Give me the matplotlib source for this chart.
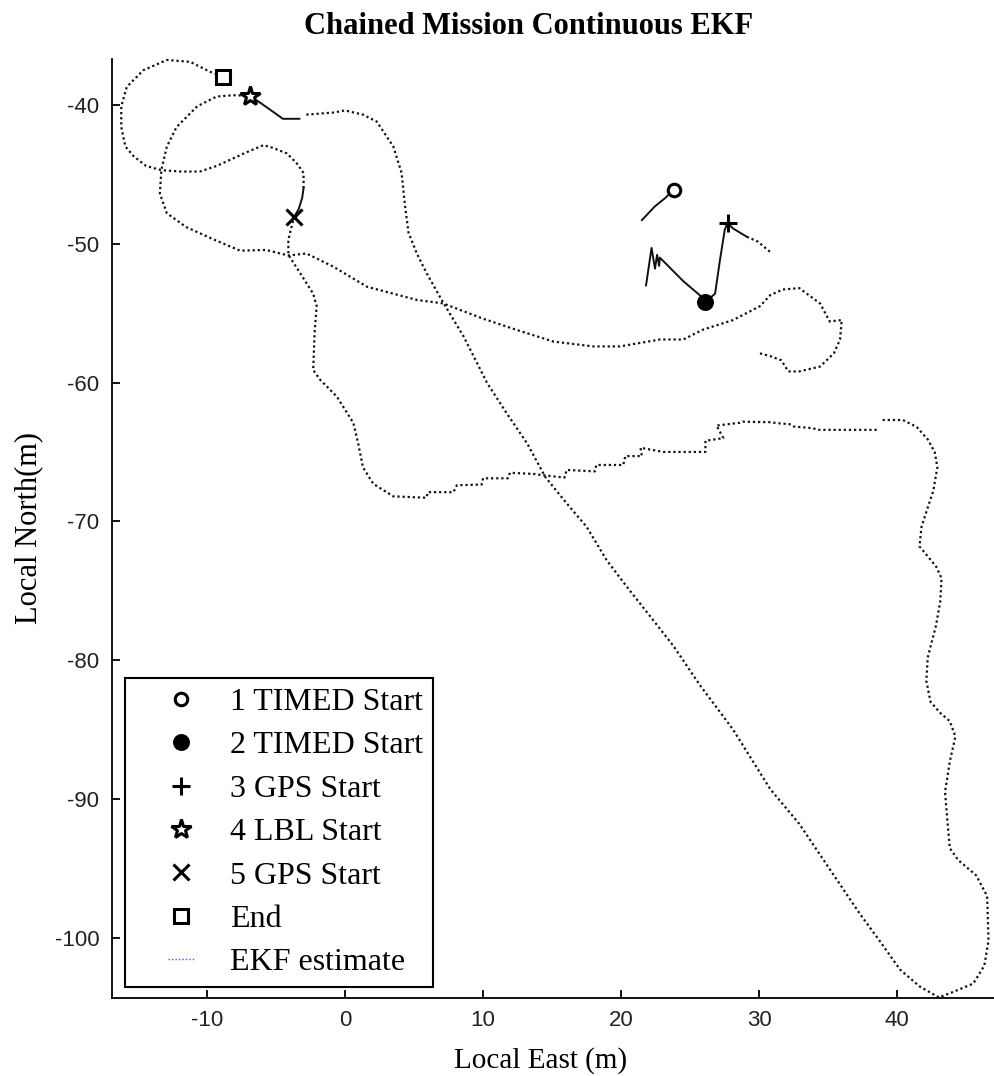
import matplotlib
matplotlib.use('Agg')
import matplotlib.pyplot as plt
from matplotlib.lines import Line2D
from matplotlib.legend_handler import HandlerLine2D

plt.rcParams['axes.unicode_minus'] = False

# 任务切换点 (east, north)
mark_labels = ['1 TIMED Start', '2 TIMED Start', '3 GPS Start', '4 LBL Start', '5 GPS Start', 'End']
mark_east = [23.8, 26.1, 27.7, -6.9, -3.7, -8.8]
mark_north = [-46.1, -54.2, -48.5, -39.35, -48.1, -38.0]

# 各段 EKF 轨迹（起点附近停留，点很密，看上去是实线）
timed1_e = [23.8, 23.2, 22.45, 21.5]
timed1_n = [-46.1, -46.7, -47.3, -48.3]

jag_e = [21.8, 22.2, 22.45, 22.6, 22.75, 22.8, 24.5, 25.8, 26.1]
jag_n = [-53.0, -50.3, -51.8, -50.8, -51.6, -51.0, -52.7, -53.8, -54.2]

timed2_e = [26.1, 26.8, 27.15, 27.5, 27.7]
timed2_n = [-54.2, -53.6, -51.2, -49.0, -48.5]

gps3_e = [27.7, 28.1, 29.1]
gps3_n = [-48.5, -48.9, -49.5]
gps3_dot_e = [29.1, 29.9, 30.8]
gps3_dot_n = [-49.5, -49.85, -50.6]

# GPS 段：右侧小圈 -> 向西 -> 4 LBL Start
loop_e = [30.05, 30.8, 31.6, 32.1, 32.9, 34.4, 35.4, 35.85, 35.97, 35.1, 34.4, 32.9, 31.7, 30.8,
          30.05, 28.1, 25.9, 24.5, 22.8, 19.9, 18.0, 15.1, 12.4, 10.0, 7.1, 5.2, 1.6, -0.85,
          -2.8, -4.1, -5.7, -7.6, -9.5, -11.5, -12.9, -13.4, -13.3, -12.9, -12.2, -10.7, -9.3,
          -8.1, -6.9]
loop_n = [-57.9, -58.1, -58.4, -59.2, -59.2, -58.85, -57.9, -56.9, -55.5, -55.6, -54.3, -53.2,
          -53.3, -53.7, -54.5, -55.5, -56.2, -56.9, -56.9, -57.4, -57.4, -57.05, -56.2, -55.4,
          -54.3, -54.05, -53.1, -51.65, -50.7, -50.85, -50.45, -50.5, -49.7, -48.8, -47.8,
          -46.4, -44.7, -43.0, -41.6, -40.1, -39.4, -39.3, -39.35]

lbl_e = [-6.9, -6.2, -5.2, -4.5, -3.3]
lbl_n = [-39.35, -39.8, -40.5, -41.0, -41.0]

# LBL 段：斜穿到最南端，再沿东侧北上
lbl_dot_e = [-2.8, -0.85, 0.0, 1.3, 2.3, 3.5, 4.1, 4.35, 4.6, 5.2, 5.9, 7.0, 8.6, 10.3, 11.7,
             13.2, 14.5, 16.05, 17.5, 18.95, 20.4, 22.3, 23.8, 25.7, 28.1, 30.8, 32.9, 35.4,
             37.3, 38.7, 40.2, 41.6, 43.0, 44.05, 45.5, 46.3, 46.6, 46.5, 45.7, 44.4, 43.8,
             43.6, 43.45, 43.8, 44.2, 43.8, 43.1, 42.4, 42.1, 42.2, 42.8, 43.1, 43.2, 42.8,
             42.1, 41.6, 41.75, 42.2, 42.6, 42.9, 42.7, 42.2, 41.4, 40.4, 38.9]
lbl_dot_n = [-40.7, -40.55, -40.4, -40.7, -41.2, -43.0, -44.9, -47.3, -49.2, -50.7, -52.1,
             -54.05, -56.7, -60.05, -62.2, -64.4, -66.8, -68.7, -70.4, -72.8, -74.7, -77.1,
             -79.0, -81.8, -85.0, -89.3, -91.8, -95.5, -98.3, -100.2, -102.3, -103.5, -104.3,
             -103.9, -103.3, -102.0, -100.2, -97.0, -95.5, -94.4, -93.55, -91.3, -89.5, -87.3,
             -85.5, -84.4, -83.8, -83.0, -81.5, -79.8, -77.5, -75.8, -74.1, -73.25, -72.4,
             -71.8, -70.4, -69.0, -67.8, -66.1, -65.0, -64.1, -63.2, -62.7, -62.7]

# 向西的阶梯段 -> 5 GPS Start
steps_e = [38.5, 34.2, 33.9, 32.5, 32.2, 31.3, 30.8, 28.8, 28.6, 26.9, 27.4, 26.1, 26.1, 23.05,
           21.4, 21.5, 20.3, 20.15, 18.2, 18.1, 16.05, 15.9, 14.1, 13.9, 11.95, 11.8, 10.0, 9.9,
           8.1, 7.85, 6.0, 5.9, 3.5, 2.05, 1.3, 0.96, 0.6, -0.6, -1.8, -2.3, -2.2, -2.05, -2.3,
           -3.26, -4.1, -4.1, -3.7]
steps_n = [-63.41, -63.41, -63.29, -63.17, -63.0, -62.93, -62.86, -62.82, -62.9, -63.1, -64.0,
           -64.2, -65.0, -65.0, -64.7, -65.3, -65.3, -65.94, -65.94, -66.4, -66.3, -66.85,
           -66.65, -66.6, -66.5, -66.9, -66.9, -67.35, -67.4, -67.9, -67.9, -68.3, -68.2, -67.3,
           -66.1, -64.4, -62.9, -61.0, -59.8, -59.1, -56.4, -54.5, -53.6, -52.1, -50.8, -49.7,
           -48.1]

gps5_e = [-3.7, -3.35, -3.1, -3.0]
gps5_n = [-48.1, -47.5, -46.7, -46.0]
gps5_dot_e = [-3.0, -3.0, -3.5, -4.2, -5.2, -5.9, -7.1, -9.3, -10.5, -11.9, -13.3, -14.4, -15.3,
              -15.9, -16.2, -16.2, -15.8, -14.6, -12.9, -11.2, -9.8, -8.8]
gps5_dot_n = [-46.0, -44.9, -44.2, -43.5, -43.1, -42.9, -43.4, -44.4, -44.8, -44.8, -44.7,
              -44.4, -43.7, -43.0, -41.6, -40.1, -38.7, -37.5, -36.76, -36.9, -37.6, -38.0]

x_ticks = [-10, 0, 10, 20, 30, 40]
y_ticks = [-100, -90, -80, -70, -60, -50, -40]

serif = ['Liberation Serif', 'DejaVu Serif']
sans = ['Liberation Sans', 'DejaVu Sans']


class ShortLine(HandlerLine2D):
    # 图例里的虚线样本画短一点，和标记一样居中
    def create_artists(self, legend, orig_handle, xdescent, ydescent, width, height,
                       fontsize, trans):
        cx = width / 2 - xdescent
        cy = height / 2 - ydescent
        ln = Line2D([cx - 0.4 * fontsize, cx + 0.4 * fontsize], [cy, cy])
        self.update_prop(ln, orig_handle, legend)
        ln.set_transform(trans)
        return [ln]


fig = plt.figure(figsize=(9.95, 10.76), dpi=100)
ax = fig.add_axes([0.1123, 0.0725, 0.8877, 0.8727])

dot = (0, (1, 1.3))
k = '#111111'
for e, n in [(gps3_dot_e, gps3_dot_n), (loop_e, loop_n), (lbl_dot_e, lbl_dot_n),
             (steps_e, steps_n), (gps5_dot_e, gps5_dot_n)]:
    ax.plot(e, n, color=k, lw=1.6, linestyle=dot)
for e, n in [(timed1_e, timed1_n), (jag_e, jag_n), (timed2_e, timed2_n),
             (gps3_e, gps3_n), (lbl_e, lbl_n), (gps5_e, gps5_n)]:
    ax.plot(e, n, color=k, lw=1.4)

styles = [dict(marker='o', ms=9, mfc='white'),
          dict(marker='o', ms=10, mfc='black'),
          dict(marker='+', ms=13),
          dict(marker='*', ms=15, mfc='white'),
          dict(marker='x', ms=11),
          dict(marker='s', ms=10, mfc='white')]
handles = []
for i in range(len(mark_labels)):
    ax.plot(mark_east[i], mark_north[i], linestyle='none', color='black', mec='black',
            mew=2.2, **styles[i])
    handles.append(Line2D([], [], linestyle='none', color='black', mec='black', mew=2.2,
                          label=mark_labels[i], **styles[i]))
ekf = Line2D([], [], color='#5050e0', lw=1.0, linestyle=(0, (1, 1.5)), label='EKF estimate')
handles.append(ekf)

ax.set_xlim(-16.89, 47.07)
ax.set_ylim(-104.34, -36.69)
ax.set_xticks(x_ticks)
ax.set_yticks(y_ticks)
ax.spines['top'].set_visible(False)
ax.spines['right'].set_visible(False)
for s in ['left', 'bottom']:
    ax.spines[s].set_linewidth(1.3)
ax.tick_params(direction='in', length=6, width=1.3, pad=9, labelsize=16)
for lab in ax.get_xticklabels() + ax.get_yticklabels():
    lab.set_family(sans)
    lab.set_color('#222222')

ax.set_xlabel('Local East (m)', fontsize=21, family=serif)
ax.xaxis.set_label_coords(0.485, -0.052)
ax.set_ylabel('Local North(m)', fontsize=22, family=serif, labelpad=8)
fig.text(0.531, 0.975, 'Chained Mission Continuous EKF', fontsize=22, fontweight='bold',
         family=serif, ha='center', va='center')

leg = ax.legend(handles=handles, loc='lower left', bbox_to_anchor=(0.1256, 0.0827),
                bbox_transform=fig.transFigure, borderaxespad=0, fancybox=False,
                framealpha=1, edgecolor='black', prop={'family': serif, 'size': 23},
                labelspacing=0.44, handlelength=2.92, handletextpad=0.08, borderpad=0.3,
                handler_map={ekf: ShortLine()})
leg.get_frame().set_linewidth(1.5)

fig.savefig('out.png', dpi=100)
